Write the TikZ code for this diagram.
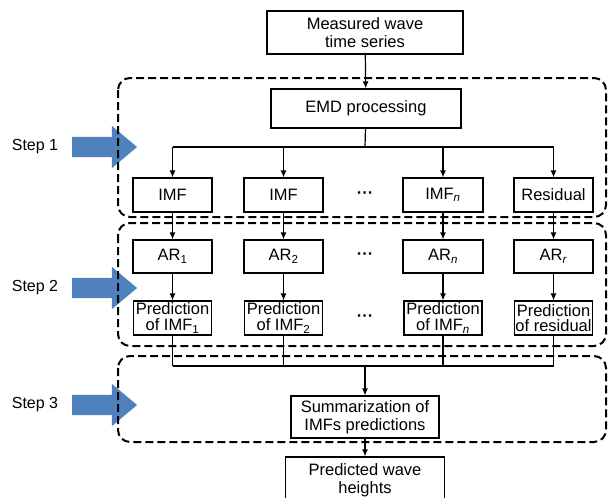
\documentclass[tikz,border=0pt]{standalone}
\usepackage{amsmath}
\usepackage{fontspec}
\setmainfont{Liberation Sans}
\usetikzlibrary{shapes.arrows, arrows.meta, positioning}
\definecolor{stepblue}{RGB}{79,129,189}

\begin{document}
\begin{tikzpicture}[x=1pt, y=-1pt]
	\tikzset{
		box/.style={%
			draw,
			line width=1.2pt,
			inner sep=1pt,
			align=center,
			font=\fontsize{16.5}{18}\selectfont},
		predbox/.style={box, font=\fontsize{16.5}{15.5}\selectfont,
			minimum width=78, minimum height=34},
		gap/.style={font=\fontsize{16.5}{18}\selectfont\bfseries},
		stagebox/.style={draw, line width=2pt, dash pattern=on 8pt off 4pt,
			rounded corners=12pt},
		steparrow/.style={single arrow, fill=stepblue, draw=none,
			minimum height=65, inner sep=0pt, text height=10pt, text depth=10pt,
			single arrow head extend=11, single arrow tip angle=80},
		steplabel/.style={font=\fontsize{16}{18}\selectfont}
	}

	\tikzstyle{conn} = [line width=1.2pt, -{Latex[length=7pt,width=6pt]}]
	\tikzstyle{wire} = [line width=1.2pt]

	\clip (0,0) rectangle (608,498);
	\useasboundingbox (0,0) rectangle (608,498);

	% top and bottom boxes
	\node[box, minimum width=196, minimum height=43] (meas) at (365,32.5) {Measured wave\\time series};
	\node[box, minimum width=190, minimum height=39] (emd) at (366,108.5) {EMD processing};
	\node[box, minimum width=148, minimum height=42] (summ) at (365,417) {Summarization of\\IMFs predictions};
	\node[box, minimum width=159, minimum height=46] (pred) at (365,480) {Predicted wave\\heights};

	% step 1 row
	\node[box, minimum width=79, minimum height=34] (imf1) at (172.5,195) {IMF};
	\node[box, minimum width=79, minimum height=34] (imf2) at (283.5,195) {IMF};
	\node[box, minimum width=80, minimum height=34] (imfn) at (443,195) {IMF\textsubscript{\textit{n}}};
	\node[box, minimum width=79, minimum height=34] (res) at (553.5,195) {Residual};
	\node[gap] (dots1) at (365,195) {\textperiodcentered\textperiodcentered\textperiodcentered};

	% step 2 rows
	\node[box, minimum width=79, minimum height=33] (ar1) at (172.5,256.5) {AR\textsubscript{1}};
	\node[box, minimum width=79, minimum height=33] (ar2) at (283.5,256.5) {AR\textsubscript{2}};
	\node[box, minimum width=80, minimum height=33] (arn) at (443,256.5) {AR\textsubscript{\textit{n}}};
	\node[box, minimum width=79, minimum height=33] (arr) at (553.5,256.5) {AR\textsubscript{\textit{r}}};
	\node[gap] (dots2) at (365,256.5) {\textperiodcentered\textperiodcentered\textperiodcentered};

	\node[predbox] (pr1) at (172.5,318) {Prediction\\of IMF\textsubscript{1}};
	\node[predbox] (pr2) at (283.5,318) {Prediction\\of IMF\textsubscript{2}};
	\node[predbox] (prn) at (443,318) {Prediction\\of IMF\textsubscript{\textit{n}}};
	\node[predbox] (prr) at (553.5,318) {Prediction\\of residual};
	\node[gap] (dots3) at (365,318) {\textperiodcentered\textperiodcentered\textperiodcentered};

	% connectors
	\coordinate (split) at (365,147);
	\coordinate (merge) at (365,366);
	\draw[conn] (meas) -- (emd);
	\draw[wire] (emd) -- (split);
	\draw[wire] (imf1 |- split) -- (res |- split);
	\draw[wire] (pr1 |- merge) -- (prr |- merge);
	\foreach \i/\a/\p in {imf1/ar1/pr1, imf2/ar2/pr2, imfn/arn/prn, res/arr/prr}{
		\draw[conn] (\i |- split) -- (\i);
		\draw[conn] (\i) -- (\a);
		\draw[conn] (\a) -- (\p);
		\draw[wire] (\p) -- (\p |- merge);
	}
	\draw[conn] (merge) -- (summ);
	\draw[conn] (summ) -- (pred);

	% steps
	\node[steplabel] (lab1) at (35,147) {Step 1};
	\node[steplabel] (lab2) at (35,288) {Step 2};
	\node[steplabel] (lab3) at (35,405) {Step 3};
	\node[steparrow] (arw1) at (98.5,147) {};
	\node[steparrow] (arw2) at (98.5,288) {};
	\node[steparrow] (arw3) at (98.5,405) {};

	\draw[stagebox] (118,78) rectangle (606,217);
	\draw[stagebox] (118,223) rectangle (606,346);
	\draw[stagebox] (118,356) rectangle (606,442);

\end{tikzpicture}
\end{document}
